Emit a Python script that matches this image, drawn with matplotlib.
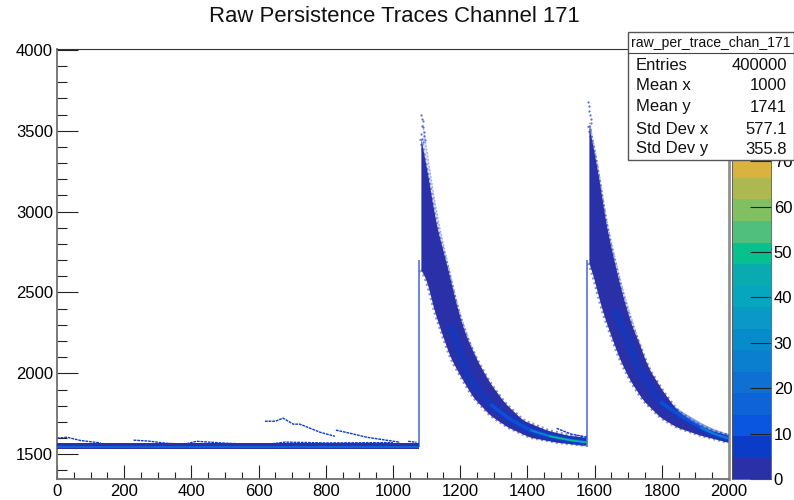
import matplotlib
matplotlib.use("Agg")
import matplotlib.pyplot as plt
from matplotlib.colors import ListedColormap, BoundaryNorm
from matplotlib.patches import Rectangle
from matplotlib.lines import Line2D
from matplotlib.ticker import MultipleLocator
import numpy as np

plt.rcParams['font.family'] = ['Liberation Sans', 'DejaVu Sans']

title = "Raw Persistence Traces Channel 171"
stats_name = "raw_per_trace_chan_171"
stats_labels = ["Entries", "Mean x", "Mean y", "Std Dev x", "Std Dev y"]
stats_values = ["400000", "1000", "1741", "577.1", "355.8"]

palette = ["#2a30a8", "#0a3cc8", "#0b56e0", "#0f63d8", "#0f70d4", "#0a7fcf", "#068ccb",
           "#0a99c6", "#06a6bf", "#0aabb0", "#06c08e", "#50bf7d", "#80c063", "#aeb850",
           "#d9b240", "#eeb82f", "#f5c828", "#f5dc20", "#f6ee18", "#f9fb0e"]
z_max = 94.7

# first decay envelope
d1_x_up = [1083, 1100, 1115, 1125, 1146, 1164, 1190, 1214, 1223, 1250, 1289, 1333, 1387, 1458, 1518, 1574]
d1_up = [3450, 3270, 3090, 2948, 2781, 2639, 2410, 2249, 2205, 2082, 1939, 1816, 1710, 1649, 1618, 1605]
d1_x_low = [1083, 1101, 1119, 1149, 1170, 1199, 1238, 1289, 1342, 1408, 1488, 1574]
d1_low = [2639, 2577, 2410, 2224, 2100, 1989, 1853, 1741, 1667, 1605, 1574, 1556]
d1_x_outer = [1089, 1098, 1110, 1122, 1134, 1149, 1170, 1193, 1223, 1250]
d1_outer = [3536, 3424, 3245, 3090, 2948, 2806, 2620, 2410, 2224, 2082]

# second decay envelope
d2_x_up = [1583, 1592, 1616, 1631, 1655, 1682, 1711, 1729, 1759, 1801, 1845, 1893, 1943, 1997]
d2_up = [3530, 3440, 3170, 2950, 2720, 2490, 2290, 2205, 2038, 1896, 1772, 1698, 1649, 1618]
d2_x_low = [1586, 1601, 1625, 1661, 1676, 1705, 1744, 1795, 1845, 1914, 1997]
d2_low = [2682, 2558, 2372, 2162, 2082, 1958, 1834, 1729, 1667, 1618, 1574]
d2_x_outer = [1585, 1592, 1616, 1631, 1655, 1682, 1711, 1740]
d2_outer = [3550, 3486, 3214, 2991, 2762, 2533, 2329, 2150]

# denser ridges in the tails
r1_x = [1170, 1229, 1289, 1348, 1408, 1467, 1527, 1574]
r1_y = [2300, 1958, 1809, 1717, 1649, 1611, 1587, 1574]
r2_x = [1660, 1735, 1795, 1854, 1914, 1958, 1997]
r2_y = [2400, 2007, 1822, 1741, 1667, 1624, 1599]

# isolated points above the peaks
p1_x = [1083, 1086, 1088, 1090, 1092, 1084, 1086, 1089, 1085, 1091, 1094]
p1_y = [3598, 3570, 3560, 3520, 3490, 3480, 3450, 3430, 3530, 3465, 3440]
p2_x = [1580, 1582, 1584, 1586, 1588, 1590, 1583, 1585]
p2_y = [3680, 3650, 3620, 3600, 3570, 3550, 3530, 3510]

# baseline band, drawn up to the first jump
base_x = [0, 1077]
base_outer = ([1534, 1534], [1572, 1572])
base_mid = ([1537, 1537], [1553, 1553])
base_core = ([1542, 1542], [1547, 1547])
wisp_top = [[0, 30, 70, 130], [228, 270, 326, 380], [385, 416, 505, 600], [640, 680, 800, 1000], [1045, 1070]]
wisp_topy = [[1600, 1605, 1585, 1570], [1587, 1582, 1568, 1562], [1565, 1580, 1568, 1560], [1565, 1575, 1570, 1572], [1580, 1574]]

# single slow traces above the baseline
t1_x = [619, 649, 673, 703, 723, 783, 827]
t1_y = [1704, 1704, 1723, 1686, 1686, 1636, 1611]
t2_x = [830, 872, 922, 1021]
t2_y = [1649, 1630, 1605, 1574]
t3_x = [1487, 1530, 1577]
t3_y = [1660, 1625, 1605]

W, H = 794, 500
fig = plt.figure(figsize=(W / 100, H / 100), dpi=100)


def fx(p):
    return p / W


def fy(p):
    return 1 - p / H


def smooth(grid, xs, ys, width=25):
    """Resample a read-off outline and round its corners for drawing."""
    y = np.interp(grid, xs, ys)
    pad = width // 2
    padded = np.concatenate([np.full(pad, y[0]) + (y[0] - y[pad:0:-1]), y,
                             np.full(pad, y[-1]) + (y[-1] - y[-2:-pad - 2:-1])])
    return np.convolve(padded, np.ones(width) / width, mode='valid')


L, R, T, B = 57, 729, 49, 479
ax = fig.add_axes([fx(L), fy(B), fx(R - L), (B - T) / H])
ax.set_xlim(0, 2000)
ax.set_ylim(1347, 4005)

dark = palette[0]
faint = "#5470dd"
ax.vlines([1077, 1578], 1545, [2700, 2700], color=faint, lw=1.2, zorder=2)

speckle = (0, (0.6, 0.9))
for xo, o, xu, u, xl, l in [(d1_x_outer, d1_outer, d1_x_up, d1_up, d1_x_low, d1_low),
                            (d2_x_outer, d2_outer, d2_x_up, d2_up, d2_x_low, d2_low)]:
    grid = np.arange(min(xu), max(xu) + 1.0)
    yu = smooth(grid, xu, u)
    yl = smooth(grid, xl, l)
    go = np.arange(min(xo), max(xo) + 1.0)
    ax.plot(go, smooth(go, xo, o), color=faint, lw=1.0, ls=(0, (1, 1.5)), alpha=0.55, zorder=2)
    ax.fill_between(go, np.interp(go, grid, yu), smooth(go, xo, o), color=faint, lw=0, alpha=0.22, zorder=2)
    ax.fill_between(grid, yl, yu, color=dark, lw=0, zorder=3)
    ax.plot(grid, yu, color=dark, lw=2.4, ls=speckle, alpha=0.55, zorder=3)
    ax.plot(grid, yl, color=dark, lw=2.4, ls=speckle, alpha=0.55, zorder=3)

for rx, ry in [(r1_x, r1_y), (r2_x, r2_y)]:
    g = np.arange(rx[0], rx[-1] + 1.0)
    yr = smooth(g, rx, ry)
    ax.plot(g, yr, color=palette[1], lw=6, alpha=0.5, zorder=4, solid_capstyle='butt')
    ax.plot(g[g > rx[2]], yr[g > rx[2]], color=palette[2], lw=2.5, alpha=0.75, zorder=5, solid_capstyle='butt')
    ax.plot(g[g > rx[4]], yr[g > rx[4]], color=palette[5], lw=1.4, zorder=6, solid_capstyle='butt')
ax.plot(r1_x[5:], r1_y[5:], color=palette[10], lw=1.0, zorder=7)

ax.scatter(p1_x, p1_y, s=2.5, color=faint, lw=0, zorder=3)
ax.scatter(p2_x, p2_y, s=2.5, color=faint, lw=0, zorder=3)

ax.fill_between(base_x, *base_outer, color=dark, lw=0, zorder=3)
ax.fill_between(base_x, *base_mid, color=palette[3], lw=0, zorder=4)
ax.fill_between(base_x, *base_core, color=palette[8], lw=0, zorder=5)
for wx, wy in zip(wisp_top, wisp_topy):
    ax.plot(wx, wy, color=palette[1], lw=1.0, ls=(0, (2, 0.6)), zorder=2)
for tx, ty in [(t1_x, t1_y), (t2_x, t2_y), (t3_x, t3_y)]:
    ax.plot(tx, ty, color=palette[1], lw=1.0, ls=(0, (2, 0.6)), zorder=2)

ax.xaxis.set_major_locator(MultipleLocator(200))
ax.xaxis.set_minor_locator(MultipleLocator(50))
ax.yaxis.set_major_locator(MultipleLocator(500))
ax.yaxis.set_minor_locator(MultipleLocator(100))
ax.tick_params(axis='x', which='major', direction='in', length=10, width=0.8, labelsize=12, pad=3.5, color="#222222")
ax.tick_params(axis='x', which='minor', direction='in', length=5, width=0.8, color="#222222")
ax.tick_params(axis='y', which='major', direction='in', length=15, width=0.8, labelsize=12, pad=3, color="#222222")
ax.tick_params(axis='y', which='minor', direction='in', length=7.5, width=0.8, color="#222222")
ax.spines['left'].set(color="#707070", lw=1.3)
ax.spines['bottom'].set(color="#707070", lw=1.3)
ax.spines['right'].set(color="#909090", lw=2)
ax.spines['top'].set(color="#333333", lw=0.8)

# colour bar
cax = fig.add_axes([fx(732), fy(B), fx(39), (B - T) / H])
cmap = ListedColormap(palette)
edges = np.linspace(0, z_max, len(palette) + 1)
cax.pcolormesh([0, 1], edges, (edges[:-1] + np.diff(edges) / 2).reshape(-1, 1), cmap=cmap,
               norm=BoundaryNorm(edges, cmap.N))
cax.set_xticks([])
cax.yaxis.tick_right()
cax.set_yticks(range(0, 90, 10))
cax.set_ylim(0, z_max)
cax.tick_params(axis='y', direction='in', length=15, width=0.8, labelsize=12, pad=2, color="#222222")
for s in cax.spines.values():
    s.set(color="#555555", lw=0.6)

fig.text(fx(394.5), fy(16), title, fontsize=15.9, ha='center', va='center', color="#111111")

# statistics box
fig.add_artist(Rectangle((fx(628), fy(160)), fx(166), (160 - 32) / H, transform=fig.transFigure,
                         fc='white', ec="#555555", lw=1.0, zorder=10))
fig.add_artist(Line2D([fx(628), fx(794)], [fy(53), fy(53)], color="#444444", lw=0.8, zorder=11))
fig.text(fx(711), fy(43), stats_name, fontsize=10.1, ha='center', va='center', color="#111111", zorder=12)
rows = [65, 86, 107, 129, 149]
for r, lab, val in zip(rows, stats_labels, stats_values):
    fig.text(fx(636), fy(r), lab, fontsize=12, ha='left', va='center', color="#111111", zorder=12)
    fig.text(fx(787), fy(r), val, fontsize=12, ha='right', va='center', color="#111111", zorder=12)

fig.savefig("out.png", dpi=100)
